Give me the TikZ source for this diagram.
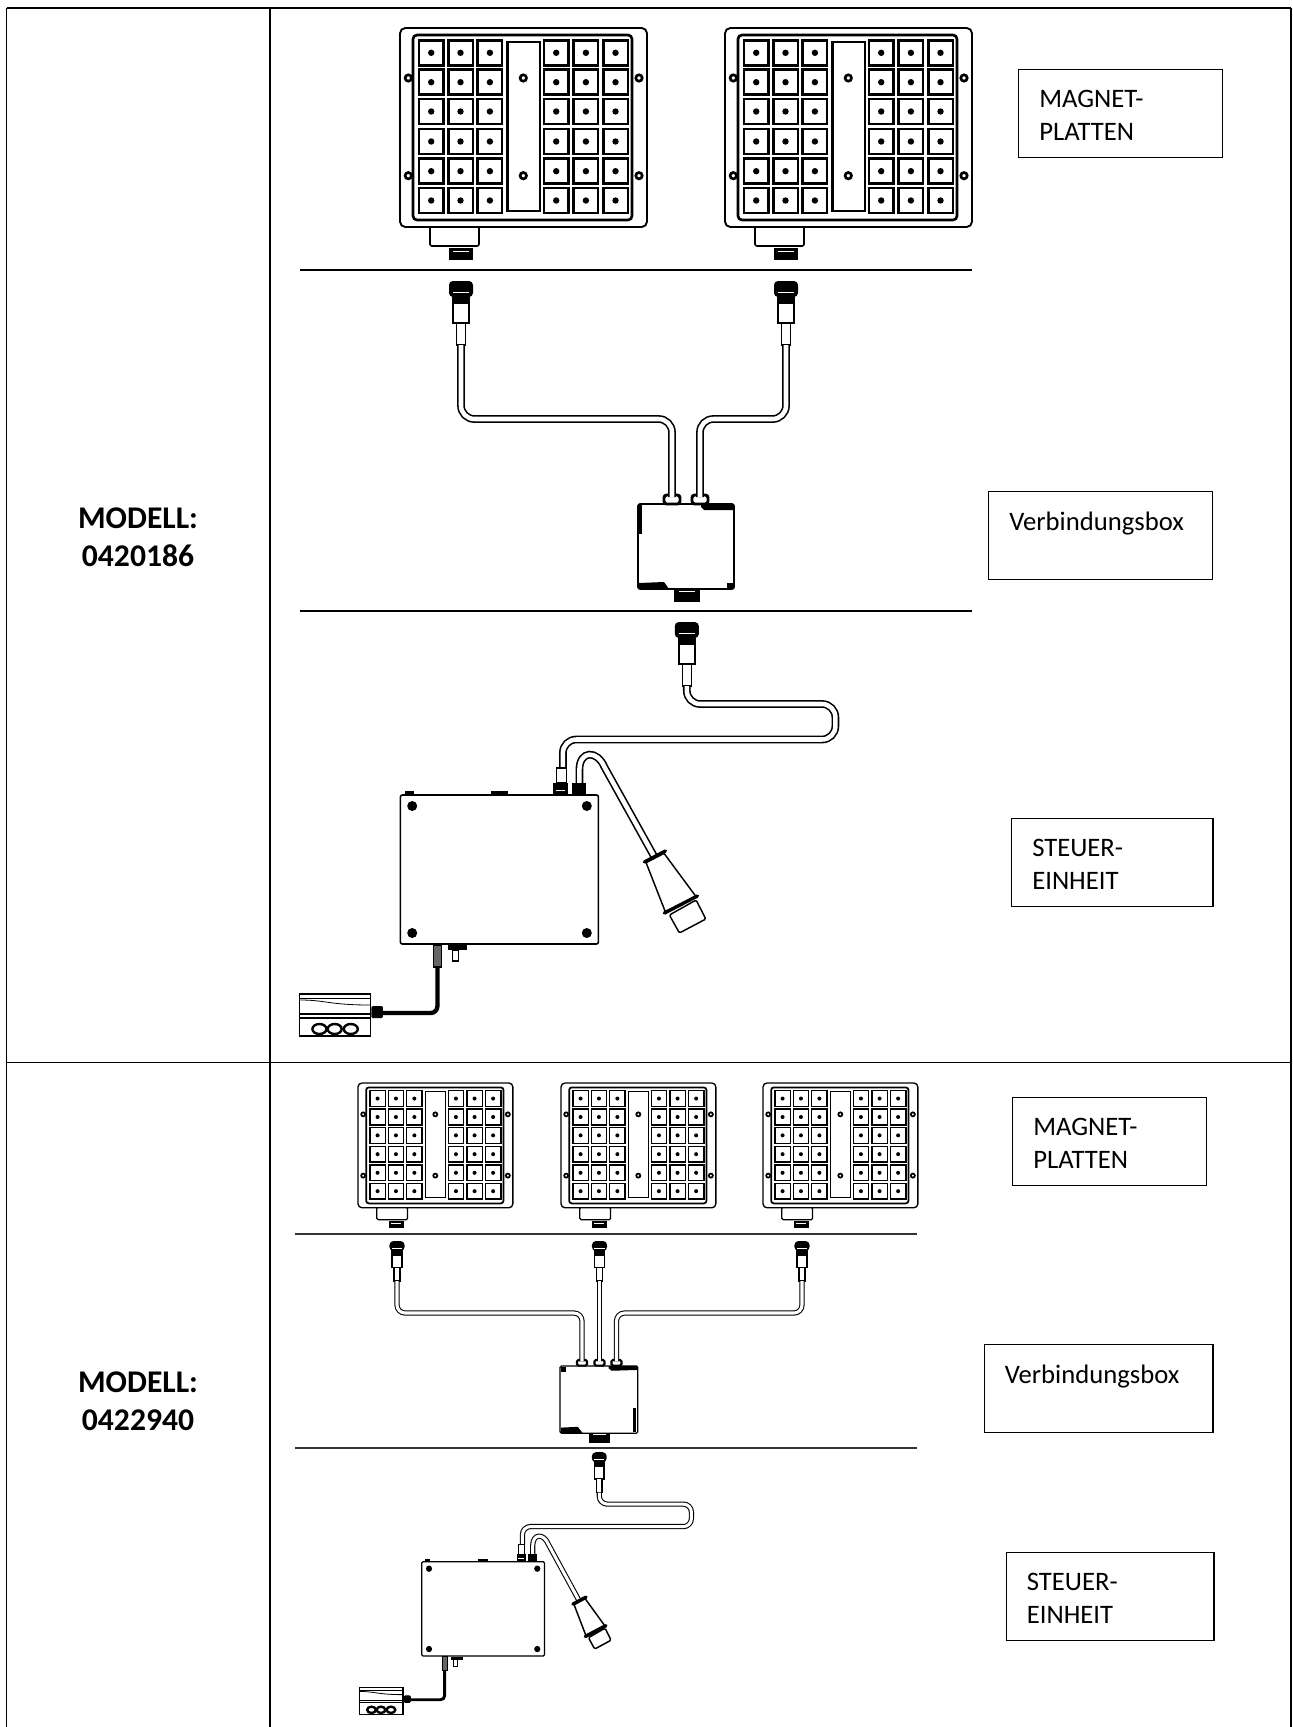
\documentclass[tikz,border=0pt]{standalone}
\usepackage{fontspec}
\setmainfont{Carlito}
\usetikzlibrary{calc}
\tikzset{
    tableline/.style = {line width=0.9pt, draw=black},
    sepline/.style = {line width=1.8pt, draw=black},
    labelbox/.style = {rectangle, draw=black, line width=1.1pt, anchor=north west, inner sep=0pt, minimum height=66pt},
    labeltext/.style = {anchor=north west, align=left, inner sep=0pt, font=\fontsize{20}{25}\selectfont},
    modeltext/.style = {align=center, inner sep=0pt, font=\fontsize{23.7}{28.5}\selectfont\bfseries},
    cable/.style = {line width=1.2pt, draw=black, double=white, double distance=3.4pt, rounded corners=10pt},
    blackcable/.style = {line width=3.2pt, draw=black, rounded corners=5pt},
    platerim/.style = {line width=1.4pt, draw=black, fill=white, rounded corners=4pt},
    plateface/.style = {line width=2pt, draw=black, fill=white, rounded corners=3pt},
    platecell/.style = {line width=1.9pt, draw=black, fill=white},
    platehole/.style = {line width=2pt, draw=black, fill=white},
    boxline/.style = {line width=1.2pt, draw=black, fill=white, rounded corners=1.5pt},
    glandline/.style = {line width=2.2pt, draw=black, fill=white, rounded corners=2pt},
    smallset/.style = {
        cable/.style = {line width=0.8pt, draw=black, double=white, double distance=2.3pt, rounded corners=6pt},
        blackcable/.style = {line width=2.2pt, draw=black, rounded corners=3pt},
        platerim/.style = {line width=1pt, draw=black, fill=white, rounded corners=3pt},
        plateface/.style = {line width=1.3pt, draw=black, fill=white, rounded corners=2pt},
        platecell/.style = {line width=1pt, draw=black, fill=white},
        platehole/.style = {line width=1.3pt, draw=black, fill=white},
        boxline/.style = {line width=0.9pt, draw=black, fill=white, rounded corners=1pt},
        glandline/.style = {line width=1.6pt, draw=black, fill=white, rounded corners=1pt},
    },
    % magnet plate, origin at top left of the rim
    magplate/.pic = {
        \draw[boxline] (30,198) rectangle (79,218);
        \fill[black] (49,220) rectangle (73,232);
        \draw[white, line width=0.5pt] (53,223) -- (69,223);
        \draw[platerim] (0,0) rectangle (247,199);
        \draw[plateface] (13,7) rectangle (232,192);
        \foreach \cx in {19,48.3,77.7,144,173.7,203.3} {
            \foreach \cy in {12.3,41.7,71,101,130.7,160} {
                \draw[platecell] (\cx,\cy) rectangle ++(24.5,25);
                \fill[black] (\cx+12.2,\cy+12.5) circle (3.2);
            }
        }
        \draw[platecell] (107.7,14) rectangle (140,183);
        \foreach \hx/\hy in {123.3/50,123.3/147.7,8.3/50,8.3/147.7,239/50,239/147.7} {
            \draw[platehole] (\hx,\hy) circle (3.2);
        }
    },
    % plug hanging under a separator, origin at top centre of the head
    plugin/.pic = {
        \fill[black, rounded corners=3pt] (-12,0) rectangle (12,16);
        \draw[white, line width=0.5pt] (-8,11) -- (8,11);
        \fill[black] (-9,14) rectangle (9,23);
        \draw[line width=1.2pt, fill=white] (-8,22) rectangle (8,42);
        \draw[line width=1pt, fill=white] (-4.6,42) rectangle (4.6,64);
        \coordinate (-end) at (0,64);
    },
    % cable gland on top of the junction box
    boxgland/.pic = {
        \draw[glandline] (-8,0) rectangle (8,9);
        \coordinate (-top) at (0,2);
    },
    % junction box, origin at top left
    junctionbox/.pic = {
        \fill[black] (36,85) rectangle (62,98);
        \draw[white, line width=0.5pt] (41,87) -- (57,87);
        \draw[boxline] (0,0) rectangle (96,85);
    },
    marksA/.pic = {
        \fill[black] (63,0) -- (95,0) -- (95,6) -- (66,6) -- (63,3) -- cycle;
        \fill[black] (0.5,1) rectangle (4,30);
        \fill[black] (1,79) -- (26,78) -- (31,85) -- (1,85) -- cycle;
        \fill[black] (89,79) rectangle (95.5,85);
    },
    marksB/.pic = {
        \fill[black] (1,1) rectangle (7,7);
        \fill[black] (60,0) -- (95,0) -- (95,5) -- (64,6) -- (60,3) -- cycle;
        \fill[black] (1,78) -- (22,77) -- (28,85) -- (1,85) -- cycle;
        \fill[black] (90.5,53) rectangle (94,84);
    },
    % control unit with its cables, plug and small switch box, origin at top left of the unit
    ctrlunit/.pic = {
        \pic[transform shape] (top) at (286.4,-173) {plugin};
        \coordinate (-a) at (162.5,-27);
        \coordinate (-b) at (179,-12);
        \coordinate (-c) at (254.6,63);
        \draw[cable] (top-end) |- (435,-91) -- (435,-55.5) -| (-a);
        \draw[cable, sharp corners] (-b) -- (179,-25) .. controls (179,-45) and (197,-45) .. (204,-28) -- (-c);
        % plug
        \draw[line width=1.1pt, fill=white, rounded corners=1pt] (269,120) -- (295.7,105) -- (305.4,124) -- (279,138) -- cycle;
        \draw[line width=1.1pt, fill=white] (245.7,67.7) -- (263.6,58.3) -- (295.7,101.7) -- (265.4,118) -- cycle;
        \draw[line width=2.6pt, line cap=round] (244,67) -- (265,56);
        \draw[line width=2.6pt, line cap=round] (264,118) -- (297,101);
        % unit
        \fill[black] (4.6,-4) rectangle (13.6,1);
        \fill[black] (91,-4) rectangle (107.5,1);
        \draw[line width=0.9pt, fill=white] (156,-27) rectangle (166,-12);
        \fill[black] (153,-12) rectangle (168,0);
        \draw[white, line width=0.5pt] (156,-5) -- (165,-5);
        \fill[black] (172,-12) rectangle (186,0);
        \draw[boxline] (0,0) rectangle (198,149);
        \foreach \hx/\hy in {11.8/11,186.4/11,11.8/138,186.4/138} {
            \fill[black] (\hx,\hy) circle (5);
        }
        % lower side
        \fill[black] (47.5,150) rectangle (67,155);
        \draw[line width=0.8pt, fill=white] (52,155) rectangle (58,166);
        \draw[line width=0.9pt, fill=black!60] (33,150) rectangle (41,172);
        \coordinate (-d) at (37,172);
        \coordinate (-e) at (-18.6,218);
        \draw[blackcable] (-d) |- (-e);
        % switch box
        \fill[black, rounded corners=1pt] (-29,211) rectangle (-17.5,223);
        \draw[line width=1.1pt, fill=white] (-100.7,199) rectangle (-30,241);
        \draw[line width=0.5pt] (-100,203) -- (-30,203);
        \draw[line width=0.6pt] (-100,205) .. controls (-75,205) and (-71,210) .. (-30,210);
        \draw[line width=0.8pt] (-100,219) -- (-30,219);
        \draw[line width=0.8pt] (-100,223) -- (-30,223);
        \foreach \sx in {-81,-65.7,-49.6} {
            \draw[line width=1.8pt, fill=white] (\sx,234) ellipse (7 and 5);
        }
        \draw[line width=1.1pt] (-100.7,241) -- (-30,241);
    }
}

\begin{document}
\begin{tikzpicture}[x=0.75pt, y=-0.75pt]
\useasboundingbox (0,0) rectangle (1292,1727);

% table
\draw[tableline] (6.5,8) -- (1291,8);
\draw[tableline] (6.5,8) -- (6.5,1727);
\draw[tableline] (270,8) -- (270,1727);
\draw[tableline] (1291,8) -- (1291,1727);
\draw[tableline] (6.5,1062.5) -- (1291,1062.5);

\node[modeltext] (modelA) at (138,537) {MODELL:\\0420186};
\node[modeltext] (modelB) at (138,1401) {MODELL:\\0422940};

% first model
\draw[sepline] (300,270) -- (972,270);
\draw[sepline] (300,611) -- (972,611);
\pic (plateA) at (400,28) {magplate};
\pic (plateB) at (725,28) {magplate};
\pic (plugA) at (461,281) {plugin};
\pic (plugB) at (786,281) {plugin};
\pic (boxA) at (638,504) {junctionbox};
\pic (marksA) at (638,504) {marksA};
\pic (glandA) at (672,495) {boxgland};
\pic (glandB) at (700,495) {boxgland};
\draw[cable] (plugA-end) |- (550,419) -| (glandA-top);
\draw[cable] (plugB-end) |- (750,419) -| (glandB-top);
\pic (unitA) at (400.4,795) {ctrlunit};

\node[labelbox, minimum width=153pt] (magA) at (1018,69) {};
\node[labeltext] (magAt) at ($(magA.north west)+(21,20.5)$) {MAGNET-\\PLATTEN};
\node[labelbox, minimum width=168pt] (verbA) at (988,491) {};
\node[labeltext] (verbAt) at ($(verbA.north west)+(21,20.5)$) {Verbindungsbox};
\node[labelbox, minimum width=151pt] (steuerA) at (1011,818) {};
\node[labeltext] (steuerAt) at ($(steuerA.north west)+(21,20.5)$) {STEUER-\\EINHEIT};

% second model
\begin{scope}[smallset]
\draw[sepline, line width=1.2pt, draw=black!80] (295,1234) -- (917,1234);
\draw[sepline, line width=1.2pt, draw=black!80] (295,1448) -- (917,1448);
\pic[scale=0.627] (plateC) at (358,1083) {magplate};
\pic[scale=0.627] (plateD) at (561,1083) {magplate};
\pic[scale=0.627] (plateE) at (763,1083) {magplate};
\pic[scale=0.627] (plugC) at (397,1241) {plugin};
\pic[scale=0.627] (plugD) at (599.5,1241) {plugin};
\pic[scale=0.627] (plugE) at (802,1241) {plugin};
\pic[xscale=0.81, yscale=0.79] (boxB) at (560,1366) {junctionbox};
\pic[xscale=0.81, yscale=0.79] (marksB) at (560,1366) {marksB};
\pic[scale=0.62] (glandC) at (582,1360) {boxgland};
\pic[scale=0.62] (glandD) at (599.5,1360) {boxgland};
\pic[scale=0.62] (glandE) at (616.5,1360) {boxgland};
\draw[cable] (plugC-end) |- (500,1313) -| (glandC-top);
\draw[cable, sharp corners] (plugD-end) -- (glandD-top);
\draw[cable] (plugE-end) |- (700,1313) -| (glandE-top);
\pic[xscale=0.62, yscale=0.633] (unitB) at (421.7,1561.7) {ctrlunit};
\end{scope}

\node[labelbox, minimum width=145.5pt] (magB) at (1012,1097) {};
\node[labeltext] (magBt) at ($(magB.north west)+(21,20.5)$) {MAGNET-\\PLATTEN};
\node[labelbox, minimum width=171.5pt] (verbB) at (983.5,1344) {};
\node[labeltext] (verbBt) at ($(verbB.north west)+(21,20.5)$) {Verbindungsbox};
\node[labelbox, minimum width=155.7pt] (steuerB) at (1005.6,1552) {};
\node[labeltext] (steuerBt) at ($(steuerB.north west)+(21,20.5)$) {STEUER-\\EINHEIT};
\end{tikzpicture}
\end{document}
